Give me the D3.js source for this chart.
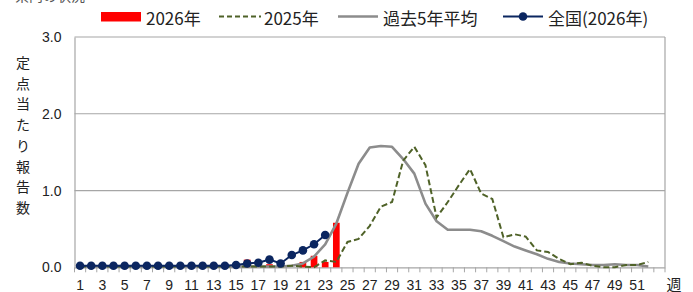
<!DOCTYPE html>
<html><head><meta charset="utf-8">
<script src="https://cdn.jsdelivr.net/npm/d3@7"></script>
<style>
html,body{margin:0;padding:0;background:#fff;}
svg{display:block;font-family:"Noto Sans CJK JP","Noto Sans",sans-serif;}
</style></head>
<body>
<svg id="chart" width="693" height="292"></svg>
<script>
// ---- data ----
const weeks = d3.range(1, 54); // axis categories 1..53
const tickLabels = d3.range(1, 52, 2);
const yTicks = [0, 1, 2, 3];
// 2026 (prefecture) bars, weeks 1..24
const bars2026 = [0,0,0,0,0,0,0,0,0,0,0,0,0,0,0,0.10,0,0.04,0,0,0.07,0.15,0.07,0.58];
// 2025 dashed, weeks 1..52
const line2025 = [0.01,0.01,0.01,0.01,0.01,0.01,0.01,0.01,0.01,0.01,0.01,0.01,0.01,0.01,0.01,0.01,0.01,0.01,0.01,0.02,0.01,0.0,0.09,0.07,
  0.33,0.37,0.54,0.79,0.85,1.39,1.57,1.33,0.65,0.85,1.07,1.28,0.96,0.89,0.39,0.43,0.40,0.22,0.20,0.11,0.04,0.06,0.02,0.0,0.0,0.03,0.03,0.07];
// past 5-year average, weeks 1..52
const avg5 = [0.01,0.01,0.01,0.01,0.01,0.01,0.01,0.01,0.01,0.01,0.01,0.01,0.01,0.01,0.01,0.01,0.01,0.01,0.01,0.02,0.05,0.14,0.30,0.57,
  0.97,1.35,1.56,1.58,1.57,1.41,1.22,0.83,0.60,0.49,0.49,0.49,0.47,0.41,0.34,0.27,0.22,0.17,0.11,0.07,0.05,0.04,0.03,0.03,0.04,0.03,0.03,0.01];
// national 2026, weeks 1..23
const national2026 = [0.02,0.02,0.02,0.02,0.02,0.02,0.02,0.02,0.02,0.02,0.02,0.02,0.02,0.02,0.03,0.05,0.06,0.10,0.05,0.16,0.22,0.30,0.42];

const svg = d3.select("#chart");
const x = d3.scaleBand().domain(weeks).range([74.5, 665]).paddingInner(0).paddingOuter(0);
const y = d3.scaleLinear().domain([0, 3]).range([267.3, 37]);
const cx = w => x(w) + x.bandwidth() / 2;
const gridColor = "#a6a6a6";

// gridlines
svg.append("g").selectAll("line").data(yTicks.filter(d => d > 0)).join("line")
  .attr("x1", 74.5).attr("x2", 665).attr("y1", d => y(d)).attr("y2", d => y(d))
  .attr("stroke", gridColor).attr("stroke-width", 1.2);
// right border
svg.append("line").attr("x1", 665).attr("x2", 665).attr("y1", y(3)).attr("y2", y(0))
  .attr("stroke", gridColor).attr("stroke-width", 1.2);

// y axis
const yAxis = svg.append("g").attr("transform", "translate(74.5,0)")
  .call(d3.axisLeft(y).tickValues(yTicks).tickSize(0).tickPadding(13).tickFormat(d3.format(".1f")));
yAxis.select(".domain").attr("stroke", gridColor).attr("stroke-width", 1.2);
yAxis.selectAll("text").attr("font-size", 14).attr("fill", "#222").attr("font-family", "'Liberation Sans',sans-serif");

// x axis
const xAxis = svg.append("g").attr("transform", `translate(0,${y(0)})`)
  .call(d3.axisBottom(x).tickSize(0).tickPadding(13).tickFormat(d => tickLabels.includes(d) ? d : ""));
xAxis.select(".domain").attr("stroke", gridColor).attr("stroke-width", 1.2);
xAxis.selectAll("text").attr("font-size", 14).attr("fill", "#222").attr("font-family", "'Liberation Sans',sans-serif");
// boundary tick marks
svg.append("g").selectAll("line").data(d3.range(0, 54)).join("line")
  .attr("x1", i => x.range()[0] + i * x.step()).attr("x2", i => x.range()[0] + i * x.step())
  .attr("y1", y(0)).attr("y2", y(0) + 5).attr("stroke", gridColor).attr("stroke-width", 1);

// bars
svg.append("g").selectAll("rect").data(bars2026.map((v, i) => ({w: i + 1, v}))).join("rect")
  .attr("x", d => cx(d.w) - x.bandwidth() * 0.3).attr("width", x.bandwidth() * 0.6)
  .attr("y", d => y(d.v)).attr("height", d => y(0) - y(d.v)).attr("fill", "#ff0000");

const line = d3.line().x((d, i) => cx(i + 1)).y(d => y(d));

// 5-year average
svg.append("path").datum(avg5).attr("d", line).attr("fill", "none")
  .attr("stroke", "#8c8c8c").attr("stroke-width", 2.6).attr("stroke-linejoin", "round");
// 2025
svg.append("path").datum(line2025).attr("d", line).attr("fill", "none")
  .attr("stroke", "#4f6228").attr("stroke-width", 2).attr("stroke-dasharray", "6,3");
// national
svg.append("path").datum(national2026).attr("d", line).attr("fill", "none")
  .attr("stroke", "#0b2660").attr("stroke-width", 2);
svg.append("g").selectAll("circle").data(national2026).join("circle")
  .attr("cx", (d, i) => cx(i + 1)).attr("cy", d => y(d)).attr("r", 4.3).attr("fill", "#0b2660");

// y axis title (vertical)
const ytitle = "定点当たり報告数".split("");
svg.append("g").selectAll("text").data(ytitle).join("text")
  .attr("x", 23).attr("y", (d, i) => 62 + i * 20.7).attr("text-anchor", "middle")
  .attr("dominant-baseline", "central").attr("font-size", 14).attr("fill", "#222").text(d => d);

// x axis title
svg.append("text").attr("x", 674).attr("y", 283).attr("text-anchor", "middle")
  .attr("dominant-baseline", "central").attr("font-size", 15).attr("fill", "#222").text("週");

// cut-off title at top (only its lowest edge shows in the reference)
svg.append("text").attr("x", 15).attr("y", 1).attr("font-size", 14).attr("fill", "#555").text("県内の状況");

// legend
const lg = svg.append("g").attr("font-size", 17).attr("fill", "#222");
lg.append("rect").attr("x", 101).attr("y", 12).attr("width", 40).attr("height", 9.5).attr("fill", "#ff0000");
lg.append("text").attr("x", 146).attr("y", 17).attr("dominant-baseline", "central").text("2026年");
lg.append("line").attr("x1", 219).attr("x2", 261).attr("y1", 16.5).attr("y2", 16.5)
  .attr("stroke", "#4f6228").attr("stroke-width", 2).attr("stroke-dasharray", "5,3");
lg.append("text").attr("x", 264).attr("y", 17).attr("dominant-baseline", "central").text("2025年");
lg.append("line").attr("x1", 338).attr("x2", 378).attr("y1", 16.5).attr("y2", 16.5)
  .attr("stroke", "#8c8c8c").attr("stroke-width", 2.6);
lg.append("text").attr("x", 383).attr("y", 17).attr("dominant-baseline", "central").text("過去5年平均");
lg.append("line").attr("x1", 503).attr("x2", 543).attr("y1", 16.5).attr("y2", 16.5)
  .attr("stroke", "#0b2660").attr("stroke-width", 2);
lg.append("circle").attr("cx", 523).attr("cy", 16.5).attr("r", 4.3).attr("fill", "#0b2660");
lg.append("text").attr("x", 548).attr("y", 17).attr("dominant-baseline", "central").text("全国(2026年)");
</script>
</body></html>
